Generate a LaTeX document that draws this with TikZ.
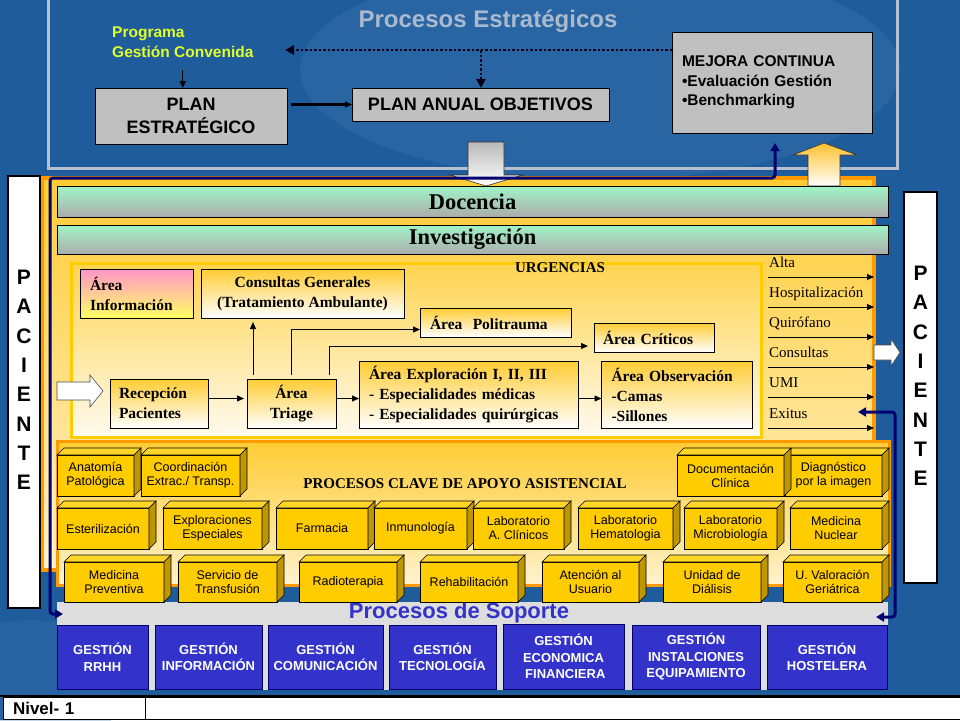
\documentclass[tikz,border=0pt]{standalone}
\usepackage{fontspec}
\setmainfont{Liberation Serif}
\setsansfont{Liberation Sans}
\usetikzlibrary{arrows.meta,shadings,calc}

\definecolor{bg}{RGB}{30,92,156}
\definecolor{wm}{RGB}{62,118,176}
\definecolor{frameline}{RGB}{182,192,206}
\definecolor{titlegrey}{RGB}{170,186,206}
\definecolor{boxgrey}{RGB}{192,192,192}
\definecolor{progyellow}{RGB}{225,255,40}
\definecolor{navy}{RGB}{0,0,112}
\definecolor{orangeb}{RGB}{255,153,0}
\definecolor{yel}{RGB}{255,204,51}
\definecolor{yelB}{RGB}{255,204,0}
\definecolor{lightyel}{RGB}{255,242,205}
\definecolor{urgtop}{RGB}{255,212,80}
\definecolor{urgbot}{RGB}{255,250,238}
\definecolor{mint}{RGB}{160,245,200}
\definecolor{barGrey}{RGB}{172,172,172}
\definecolor{pinkA}{RGB}{255,150,200}
\definecolor{yellowA}{RGB}{255,255,100}
\definecolor{cubeF}{RGB}{255,204,0}
\definecolor{cubeT}{RGB}{255,214,40}
\definecolor{cubeS}{RGB}{190,150,0}
\definecolor{gblue}{RGB}{51,51,204}
\definecolor{soptitle}{RGB}{51,51,204}
\definecolor{sopband}{RGB}{221,221,221}

\newcommand\bx[7]{\node[#1, minimum width={(#5)-(#3)}, minimum height={(#6)-(#4)}] (#2) at ({((#3)+(#5))/2},{((#4)+(#6))/2}) {#7};}
\newcommand\cubebox[6]{%
  \bx{cubefront}{#1}{#2}{#3}{#4}{#5}{#6}%
  \filldraw[cubeface, fill=cubeT] (#1.north west) -- ++(7,-7) -- ++({(#4)-(#2)},0) -- (#1.north east) -- cycle;
  \filldraw[cubeface, fill=cubeS] (#1.north east) -- ++(7,-7) -- ++(0,{(#5)-(#3)}) -- (#1.south east) -- cycle;
}

\begin{document}
\begin{tikzpicture}[x=1pt,y=-1pt,
  greybox/.style={draw=black, line width=1pt, fill=boxgrey, inner sep=0pt, outer sep=0pt, align=center, font=\sffamily\bfseries\fontsize{18}{23}\selectfont},
  barbox/.style={draw=black, line width=0.8pt, top color=mint, bottom color=barGrey, inner sep=0pt, outer sep=0pt, font=\bfseries\fontsize{22.5}{24}\selectfont},
  ubox/.style={draw=black, line width=0.8pt, top color=yel, bottom color=white, inner sep=0pt, outer sep=0pt, align=center, font=\bfseries\fontsize{15.5}{20}\selectfont},
  ulbox/.style={ubox, align=left, inner xsep=9pt},
  cubefront/.style={draw=black, line width=0.6pt, fill=cubeF, inner sep=0pt, outer sep=0pt, align=center, font=\sffamily\fontsize{12.5}{14}\selectfont},
  cubeface/.style={draw=black, line width=0.6pt},
  gbox/.style={draw=navy, line width=0.8pt, fill=gblue, text=white, inner sep=0pt, outer sep=0pt, align=center, font=\sffamily\bfseries\fontsize{13}{16.5}\selectfont},
  pacbox/.style={draw=black, line width=1.2pt, fill=white, inner sep=0pt, outer sep=0pt},
  pacletters/.style={align=center, inner sep=0pt, font=\sffamily\bfseries\fontsize{21}{29.3}\selectfont},
  myarrow/.style={-{Triangle[length=7pt,width=6pt]}, line width=1pt},
  dotline/.style={line width=2.5pt, dash pattern=on 2.5pt off 2pt, draw=black!80!navy, -{Triangle[length=9pt,width=9pt]}},
  navyline/.style={draw=navy, line width=3pt, {Triangle[length=8pt,width=9pt]}-{Triangle[length=8pt,width=9pt]}, rounded corners=3pt},
  outlbl/.style={anchor=base west, inner sep=0pt, font=\fontsize{15}{15}\selectfont},
  panel/.style={inner sep=0pt, outer sep=0pt},
]
\fill[bg] (0,0) rectangle (960,720);
\useasboundingbox (0,0) rectangle (960,720);
% faint background glow
\fill[wm, opacity=0.35] (600,70) ellipse (300 and 110);
\fill[wm, opacity=0.3] (30,690) ellipse (90 and 70);

% ---------- strategic processes ----------
\draw[frameline, line width=3pt] (48,-20) rectangle (897,168);
\node[font=\sffamily\bfseries\fontsize{24}{24}\selectfont, text=titlegrey] (ttl) at (488,21) {Procesos Estratégicos};
\node[anchor=north west, align=left, text=progyellow, inner sep=0pt, font=\sffamily\bfseries\fontsize{15.5}{20}\selectfont] (prog) at (112,27) {Programa\\Gestión Convenida};

\bx{greybox}{pe}{95}{88}{287}{144}{PLAN\\ESTRATÉGICO}
\bx{greybox}{pa}{352}{88}{609}{121}{PLAN ANUAL OBJETIVOS}
\bx{greybox, align=left, text width=180pt, inner xsep=10pt, font=\sffamily\bfseries\fontsize{15.5}{19.5}\selectfont}{mc}{672}{32}{872}{133}{MEJORA CONTINUA\\•Evaluación Gestión\\•Benchmarking}

\draw[myarrow, line width=1.3pt] (prog.south) ++(0,12) -- (prog.south |- pe.north);
\draw[myarrow, line width=2.5pt] (pe.east |- pa.west) ++(4,0) -- (pa.west);
\coordinate (dotL) at (285,50);
\coordinate (dotJ) at (481,50);
\draw[dotline] (mc.west |- dotL) -- (dotL);
\draw[dotline] (dotJ) -- (dotJ |- pa.north);

% ---------- main frame ----------
\bx{panel, draw=orangeb, line width=4pt, top color=yel, bottom color=lightyel}{mainf}{42}{178}{874}{570}{}

% big arrows between levels
\draw[top color=gray!55, bottom color=white, draw=gray!40!black, line width=0.6pt]
  (468,142) -- (504,142) -- (504,175) -- (523,175) -- (486,186) -- (450,175) -- (468,175) -- cycle;
\draw[top color=yel!85!orange, bottom color=white, draw=gray!40!black, line width=0.6pt]
  (808,186) -- (808,155) -- (793,155) -- (824,143) -- (857,155) -- (840,155) -- (840,186) -- cycle;

\bx{barbox}{doc}{57}{186}{888}{217}{Docencia}
\bx{barbox}{inv}{57}{225}{888}{254}{Investigación}

% ---------- URGENCIAS ----------
\bx{panel, draw=yelB, line width=3pt, top color=urgtop, bottom color=urgbot}{urg}{71}{263}{761}{437}{}
\node[font=\bfseries\fontsize{15}{15}\selectfont, inner sep=0pt] (urgt) at (560,268) {URGENCIAS};

\bx{ulbox, top color=pinkA, bottom color=yellowA, text width=93pt, inner xsep=10pt}{ainf}{80}{269}{193}{318}{Área\\Información}
\bx{ubox}{cons}{201}{269}{404}{318}{Consultas Generales\\(Tratamiento Ambulante)}
\bx{ulbox, text width=131pt, inner xsep=10pt}{poli}{420}{308}{571}{337}{Área~ Politrauma}
\bx{ulbox, text width=102pt}{crit}{594}{323}{714}{352}{Área Críticos}
\bx{ulbox, text width=80pt}{rec}{110}{379}{208}{428}{Recepción\\Pacientes}
\bx{ubox}{tri}{247}{379}{336}{428}{Área\\Triage}
\bx{ulbox, text width=199pt, inner xsep=10pt}{expl}{359}{361}{578}{428}{Área Exploración I, II, III\\- Especialidades médicas\\- Especialidades quirúrgicas}
\bx{ulbox, text width=131pt, inner xsep=10pt}{obs}{602}{361}{752}{428}{Área Observación\\-Camas\\-Sillones}

\coordinate (ty) at ([yshift=5pt]tri.east);
\draw[myarrow] ([yshift=5pt]rec.east) -- ([yshift=5pt,xshift=-3pt]tri.west);
\draw[myarrow] (ty) -- (ty -| expl.west);
\draw[myarrow] (expl.east |- ty) -- (obs.west |- ty);
\coordinate (t1) at ([xshift=6pt,yshift=4pt]tri.north west);
\draw[myarrow] (t1) -- ([yshift=-4pt]t1 |- cons.south);
\coordinate (p1) at ([yshift=-7pt]poli.west);
\draw[myarrow] ([yshift=4pt]tri.north) |- (p1);
\coordinate (t2) at ([xshift=-7pt,yshift=4pt]tri.north east);
\coordinate (c1) at ([yshift=-8.5pt,xshift=-6pt]crit.west);
\draw[myarrow] (t2) |- (c1);

% outputs
\foreach \yy/\lbl [count=\i] in {277/Alta, 307/Hospitalización, 337/Quirófano, 367/Consultas, 397/UMI, 428/Exitus}{
  \node[outlbl] (out\i) at (769,\yy-9.5) {\lbl};
  \coordinate (os\i) at (768,\yy);
  \coordinate (oe\i) at (874,\yy);
  \draw[myarrow] (os\i) -- (oe\i);
}

% ---------- APOYO ----------
\bx{panel, draw=orangeb, line width=3pt, top color=yel, bottom color=lightyel}{apoyo}{57}{441}{889}{585}{}
\node[font=\bfseries\fontsize{15}{15}\selectfont, inner sep=0pt] (apt) at (465,484) {PROCESOS CLAVE DE APOYO ASISTENCIAL};

\bx{panel, fill=sopband}{sop}{57}{602}{888}{690}{}
\node[font=\sffamily\bfseries\fontsize{22}{22}\selectfont, text=soptitle, inner sep=0pt] (sopt) at (459,613) {Procesos de Soporte};

\cubebox{anat}{57}{455}{134}{496}{Anatomía\\Patológica}
\cubebox{coord}{141}{455}{240}{496}{Coordinación\\Extrac./ Transp.}
\cubebox{diag}{785}{455}{882}{496}{Diagnóstico\\por la imagen}
\cubebox{docu}{677}{455}{784}{496}{Documentación\\Clínica}

\cubebox{est}{57}{508}{149}{549}{Esterilización}
\cubebox{exe}{163}{508}{262}{549}{Exploraciones\\Especiales}
\cubebox{far}{276}{508}{368}{549}{Farmacia}
\cubebox{inm}{374}{508}{467}{549}{Inmunología}
\cubebox{lac}{473}{508}{564}{549}{Laboratorio\\A. Clínicos}
\cubebox{lhe}{578}{508}{673}{549}{Laboratorio\\Hematologia}
\cubebox{lmi}{684}{508}{777}{549}{Laboratorio\\Microbiología}
\cubebox{mnu}{790}{508}{882}{549}{Medicina\\Nuclear}

\cubebox{mpr}{64}{562}{164}{602}{Medicina\\Preventiva}
\cubebox{stf}{178}{562}{277}{602}{Servicio de\\Transfusión}
\cubebox{rad}{299}{562}{397}{602}{Radioterapia}
\cubebox{reh}{420}{562}{518}{602}{Rehabilitación}
\cubebox{atu}{542}{562}{639}{602}{Atención al\\Usuario}
\cubebox{udi}{663}{562}{761}{602}{Unidad de\\Diálisis}
\cubebox{uvg}{783}{562}{882}{602}{U. Valoración\\Geriátrica}

% ---------- SOPORTE ----------
\bx{gbox}{g1}{57}{625}{148}{689}{GESTIÓN\\RRHH}
\bx{gbox}{g2}{155}{625}{262}{689}{GESTIÓN\\INFORMACIÓN}
\bx{gbox}{g3}{268}{625}{383}{689}{GESTIÓN\\COMUNICACIÓN}
\bx{gbox}{g4}{389}{625}{496}{689}{GESTIÓN\\TECNOLOGÍA}
\bx{gbox}{g5}{503}{624}{624}{689}{GESTIÓN\\ECONOMICA\\~FINANCIERA}
\bx{gbox}{g6}{632}{625}{760}{689}{GESTIÓN\\INSTALCIONES\\EQUIPAMIENTO}
\bx{gbox}{g7}{767}{625}{887}{689}{GESTIÓN\\HOSTELERA}

% ---------- PACIENTE ----------
\bx{pacbox}{pacL}{8}{176}{40}{608}{}
\node[pacletters] (pacLt) at (24,380) {P\\A\\C\\I\\E\\N\\T\\E};
\bx{pacbox}{pacR}{904}{192}{937}{583}{}
\node[pacletters] (pacRt) at (920.5,376) {P\\A\\C\\I\\E\\N\\T\\E};

% white arrows
\draw[fill=white, draw=black!70, line width=0.6pt]
  (57,382) -- (90,382) -- (90,375) -- (103,391) -- (90,407) -- (90,400) -- (57,400) -- cycle;
\draw[fill=white, draw=black!70, line width=0.6pt]
  (874,345) -- (891,345) -- (891,339) -- (900,352.5) -- (891,366) -- (891,360) -- (874,360) -- cycle;

% navy feedback lines
\coordinate (nvS) at (63,614);
\coordinate (mcup) at (775,143);
\draw[navyline] (nvS) -- (50,614) -- (50,178) -- (775,178) -- (mcup);
\coordinate (exA) at (858,412);
\coordinate (exB) at (876,617);
\draw[navyline] (exA) -- (895,412) -- (895,617) -- (exB);

% ---------- bottom bar ----------
\draw[black, line width=2pt] (0,696) -- (960,696);
\bx{panel, draw=black, line width=1pt, fill=white, align=left, text width=127pt, inner xsep=10pt, font=\sffamily\bfseries\fontsize{17}{17}\selectfont}{niv}{8}{697}{145}{719}{Nivel- 1}
\bx{panel, draw=black, line width=1pt, fill=white}{nivR}{145}{697}{962}{719}{}
\end{tikzpicture}
\end{document}
